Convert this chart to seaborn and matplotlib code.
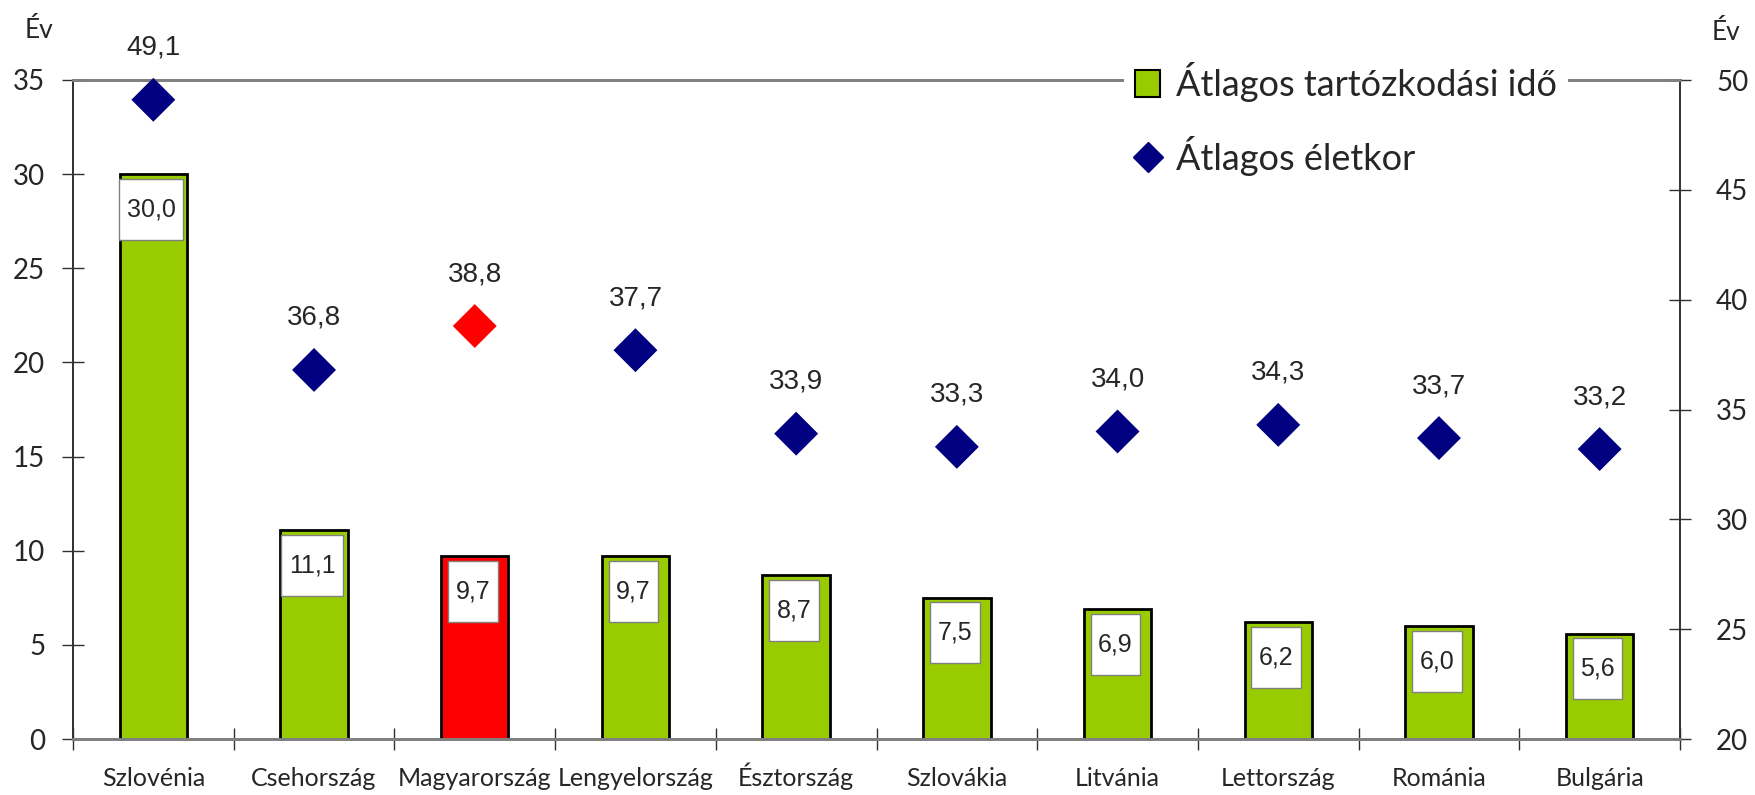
import numpy as np
import matplotlib
matplotlib.use('Agg')
import matplotlib.pyplot as plt
import seaborn as sns
from matplotlib.path import Path
from matplotlib.patches import Patch
from matplotlib.lines import Line2D

# adatok
countries = ['Szlovénia', 'Csehország', 'Magyarország', 'Lengyelország', 'Észtország',
             'Szlovákia', 'Litvánia', 'Lettország', 'Románia', 'Bulgária']
stay_years = [30.0, 11.1, 9.7, 9.7, 8.7, 7.5, 6.9, 6.2, 6.0, 5.6]
avg_age = [49.1, 36.8, 38.8, 37.7, 33.9, 33.3, 34.0, 34.3, 33.7, 33.2]
highlight = 'Magyarország'

green = '#99CC00'
navy = '#000080'
red = '#FF0000'
bar_colors = [red if c == highlight else green for c in countries]
dot_colors = [red if c == highlight else navy for c in countries]

sns.set_style('white')
plt.rcParams['font.family'] = ['Lato', 'DejaVu Sans']
num_font = ['Liberation Sans', 'DejaVu Sans']


def label_box(x0, y0, width, height, mutation_size):
    px = 0.3 * mutation_size
    py = 0.74 * mutation_size
    x0 -= px
    y0 -= py
    x1 = x0 + width + 2 * px
    y1 = y0 + height + 2 * py
    return Path([(x0, y0), (x1, y0), (x1, y1), (x0, y1), (x0, y0)], closed=True)


fig = plt.figure(figsize=(17.55, 7.95), dpi=100)
ax = fig.add_axes([73 / 1755, 1 - 739 / 795, (1680 - 73) / 1755, (739 - 80) / 795])

sns.barplot(x=countries, y=stay_years, hue=countries, palette=bar_colors, legend=False,
            width=0.42, edgecolor='black', linewidth=2, saturation=1, ax=ax)
ax.set_xlim(-0.5, len(countries) - 0.5)
ax.set_ylim(0, 35)
ax.set_yticks(range(0, 36, 5))
ax.set_xlabel('')
ax.set_ylabel('')

for i, v in enumerate(stay_years):
    ax.annotate(f'{v:.1f}'.replace('.', ','), xy=(i, v), xytext=(-2, -35),
                textcoords='offset pixels', ha='center', va='center',
                fontsize=18, family=num_font, zorder=5,
                bbox=dict(boxstyle=label_box, facecolor='white', edgecolor='#808080', linewidth=1))

ax2 = ax.twinx()
x_pos = np.arange(len(countries))
sns.scatterplot(x=x_pos, y=avg_age, hue=countries, palette=dot_colors, legend=False,
                marker='D', s=500, edgecolor='none', ax=ax2, clip_on=False, zorder=4)
ax2.set_ylim(20, 50)
ax2.set_yticks(range(20, 51, 5))
ax2.set_ylabel('')

for i, v in enumerate(avg_age):
    ax2.annotate(f'{v:.1f}'.replace('.', ','), xy=(i, v), xytext=(0, 52),
                 textcoords='offset pixels', ha='center', va='center',
                 fontsize=20, family=num_font)

# tengelyek
for a in (ax, ax2):
    for side in ('top', 'bottom'):
        a.spines[side].set_color('#808080')
        a.spines[side].set_linewidth(2)
    for side in ('left', 'right'):
        a.spines[side].set_color('#303030')
        a.spines[side].set_linewidth(1.2)

ax.tick_params(axis='y', direction='inout', length=16, width=1, color='#303030',
               pad=12, labelsize=20, left=True)
ax2.tick_params(axis='y', direction='inout', length=16, width=1, color='#303030',
                pad=18, labelsize=20, right=True)
ax.set_xticks(np.arange(-0.5, len(countries), 1), minor=True)
ax.tick_params(axis='x', which='minor', direction='inout', length=16, width=1,
               color='#303030', bottom=True)
ax.tick_params(axis='x', which='major', length=0, pad=34, labelsize=18)
for lbl in ax.get_xticklabels():
    lbl.set_verticalalignment('baseline')

handles = [Patch(facecolor=green, edgecolor='black', linewidth=1.5, label='Átlagos tartózkodási idő'),
           Line2D([], [], marker='D', linestyle='none', markersize=15, color=navy,
                  label='Átlagos életkor')]
leg = ax2.legend(handles=handles, loc='upper left', bbox_to_anchor=(1106 / 1755, 1 - 33 / 795),
                 bbox_transform=fig.transFigure, fontsize=26, frameon=True, fancybox=False,
                 framealpha=1, facecolor='white', edgecolor='none', handlelength=0.7,
                 handleheight=0.8, handletextpad=0.45, labelspacing=0.95, borderpad=0.3)

fig.text(25 / 1755, 1 - 30 / 795, 'Év', fontsize=19, va='center')
fig.text(1712 / 1755, 1 - 32 / 795, 'Év', fontsize=19, va='center')

fig.savefig('out.png', dpi=100)
